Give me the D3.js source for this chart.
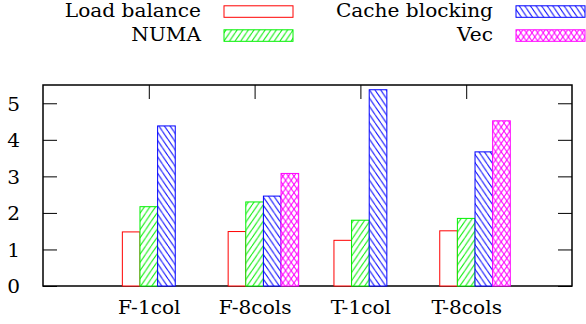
<!DOCTYPE html>
<html>
<head>
<meta charset="utf-8">
<script src="https://cdn.jsdelivr.net/npm/d3@7"></script>
<style>
  html, body { margin: 0; padding: 0; background: #fff; }
  svg { display: block; }
</style>
</head>
<body>
<svg id="chart" width="586" height="324"></svg>
<script>
// Speedup per optimisation step for each matrix layout
const categories = ["F-1col", "F-8cols", "T-1col", "T-8cols"];
const seriesNames = ["Load balance", "NUMA", "Cache blocking", "Vec"];
const loadBalance   = [1.48, 1.49, 1.25, 1.51];
const numa          = [2.17, 2.30, 1.80, 1.85];
const cacheBlocking = [4.38, 2.46, 5.37, 3.67];
const vec           = [null, 3.08, null, 4.52];
const yTicks = [0, 1, 2, 3, 4, 5];

const seriesValues = [loadBalance, numa, cacheBlocking, vec];
const colors = ["#ff0000", "#00f000", "#0000ff", "#ff00ff"];
const patterns = ["none", "fwd", "back", "cross"];

const svg = d3.select("#chart");
const fontFamily = "DejaVu Serif";
const fontSize = 19;
const stretch = 1.06;   // widen the serif glyphs slightly

const plotL = 43, plotR = 572, plotT = 85, plotB = 286;
const x = d3.scaleLinear().domain([-1, categories.length]).range([plotL, plotR]);
const y = d3.scaleLinear().domain([0, 5.5]).range([plotB, plotT]);
const barW = 1 / 6;

// hatch patterns
const defs = svg.append("defs");
const pw = 5.6, ph = 8.2;
function makePattern(id, color, kind) {
  const p = defs.append("pattern").attr("id", id)
    .attr("patternUnits", "userSpaceOnUse")
    .attr("width", pw).attr("height", ph);
  p.append("rect").attr("width", pw).attr("height", ph).attr("fill", "#fff");
  const g = p.append("g").attr("stroke", color).attr("stroke-width", 1).attr("fill", "none");
  if (kind === "fwd" || kind === "cross") {
    for (const k of [-1, 0, 1]) g.append("path").attr("d", `M${k * pw},${ph}L${k * pw + pw},0`);
  }
  if (kind === "back" || kind === "cross") {
    for (const k of [-1, 0, 1]) g.append("path").attr("d", `M${k * pw},0L${k * pw + pw},${ph}`);
  }
}
seriesNames.forEach((s, i) => {
  if (patterns[i] !== "none") makePattern("pat" + i, colors[i], patterns[i]);
});
const fillFor = i => patterns[i] === "none" ? "#fff" : `url(#pat${i})`;

function stretchText(sel) {
  sel.each(function () {
    const t = d3.select(this);
    const tx = +t.attr("x") || 0;
    const ty = +t.attr("y") || 0;
    t.attr("x", 0).attr("y", 0)
     .style("font-family", fontFamily).style("font-size", fontSize + "px").attr("fill", "#000")
     .attr("transform", `translate(${tx},${ty}) scale(${stretch},1)`);
  });
}

// axes with inward ticks
const axLeft = svg.append("g").attr("transform", `translate(${plotL},0)`)
  .call(d3.axisLeft(y).tickValues(yTicks).tickSize(-14).tickPadding(23).tickFormat(d3.format("d")));
const axRight = svg.append("g").attr("transform", `translate(${plotR},0)`)
  .call(d3.axisRight(y).tickValues(yTicks).tickSize(-14).tickFormat(""));
const axTop = svg.append("g").attr("transform", `translate(0,${plotT})`)
  .call(d3.axisTop(x).tickValues(d3.range(categories.length)).tickSize(-14).tickFormat(""));
const axBottom = svg.append("g").attr("transform", `translate(0,${plotB})`)
  .call(d3.axisBottom(x).tickValues(d3.range(categories.length)).tickSize(-14).tickPadding(14)
    .tickFormat(i => categories[i]));

[axLeft, axRight, axTop, axBottom].forEach(a => {
  a.attr("font-family", null).attr("font-size", null);
  a.select(".domain").remove();
  a.selectAll(".tick line").attr("stroke", "#000").attr("stroke-width", 1);
});
axLeft.selectAll(".tick text").attr("dy", "0.36em");
axBottom.selectAll(".tick text").attr("dy", "0.74em");
stretchText(axLeft.selectAll(".tick text"));
stretchText(axBottom.selectAll(".tick text"));

// plot frame
svg.append("rect")
  .attr("x", plotL).attr("y", plotT)
  .attr("width", plotR - plotL).attr("height", plotB - plotT)
  .attr("fill", "none").attr("stroke", "#000").attr("stroke-width", 1.5);

// clustered bars
const bars = [];
seriesValues.forEach((vals, si) => {
  vals.forEach((v, ci) => {
    if (v !== null) bars.push({ si, ci, v });
  });
});
svg.append("g").selectAll("rect").data(bars).join("rect")
  .attr("x", d => x(d.ci + (d.si - 1.5) * barW))
  .attr("width", d => x(barW) - x(0))
  .attr("y", d => y(d.v))
  .attr("height", d => y(0) - y(d.v))
  .attr("fill", d => fillFor(d.si))
  .attr("stroke", d => colors[d.si])
  .attr("stroke-width", 1);

// legend: two columns, two rows
const legCols = [{ textX: 201, boxX: 224 }, { textX: 493, boxX: 516 }];
const legend = svg.append("g");
seriesNames.forEach((name, i) => {
  const col = legCols[Math.floor(i / 2)];
  const row = i % 2;
  legend.append("text")
    .attr("text-anchor", "end")
    .attr("x", col.textX).attr("y", 17.4 + row * 23.5)
    .text(name)
    .call(stretchText);
  legend.append("rect")
    .attr("x", col.boxX).attr("y", 5.8 + row * 24)
    .attr("width", 69).attr("height", 11.5)
    .attr("fill", fillFor(i))
    .attr("stroke", colors[i]).attr("stroke-width", 1);
});
</script>
</body>
</html>
